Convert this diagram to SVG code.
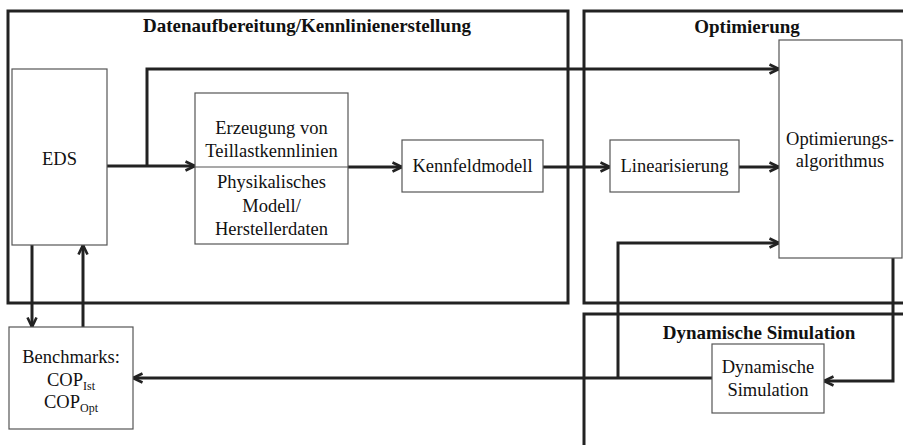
<svg xmlns="http://www.w3.org/2000/svg" width="903" height="445" viewBox="0 0 903 445">
<style>
.grp{fill:none;stroke:#222;stroke-width:3}
.node{fill:#fff;stroke:#555;stroke-width:1.2}
.t{font-family:"Liberation Serif","Times New Roman",serif;font-size:18.5px;fill:#111;text-anchor:middle}
.h{font-family:"Liberation Serif","Times New Roman",serif;font-size:19px;font-weight:bold;fill:#111;text-anchor:middle}
.c{fill:none;stroke:#222;stroke-width:3;marker-end:url(#a)}
</style>
<defs>
<marker id="a" viewBox="0 0 12 12" refX="11" refY="6" markerWidth="12" markerHeight="12" markerUnits="userSpaceOnUse" orient="auto">
<path d="M1.5,1.5 L11,6 L1.5,10.5" fill="none" stroke="#222" stroke-width="2.6"/>
</marker>
</defs>
<rect width="903" height="445" fill="#fff"/>
<g id="group-daten">
<rect class="grp" x="8" y="11" width="560" height="292"/>
<text class="h" x="307" y="32">Datenaufbereitung/Kennlinienerstellung</text>
</g>
<g id="group-optimierung">
<path class="grp" d="M906,11 H584 V303 H906"/>
<text class="h" x="747" y="33">Optimierung</text>
</g>
<g id="group-dynsim">
<path class="grp" d="M584,447 V314 H906"/>
<text class="h" x="759" y="339">Dynamische Simulation</text>
</g>
<g id="connectors">
<path class="c" d="M107,166 H195"/>
<path class="c" d="M147,166 V69 H779"/>
<path class="c" d="M348,167 H402"/>
<path class="c" d="M543,167 H610"/>
<path class="c" d="M739,167 H779"/>
<path class="c" d="M712,378 H133"/>
<path class="c" d="M618,378 V243 H779"/>
<path class="c" d="M893,258 V381 H824"/>
<path class="c" d="M32,245 V327"/>
<path class="c" d="M83,327 V245"/>
</g>
<g id="node-eds">
<rect class="node" x="12" y="69" width="95" height="176"/>
<text class="t" x="59.5" y="165">EDS</text>
</g>
<g id="node-erzeugung">
<rect class="node" x="195" y="93" width="153" height="151"/>
<line x1="195" y1="167" x2="348" y2="167" stroke="#555" stroke-width="1.2"/>
<text class="t" x="271.5" y="134">Erzeugung von</text>
<text class="t" x="271.5" y="157">Teillastkennlinien</text>
<text class="t" x="271.5" y="188">Physikalisches</text>
<text class="t" x="271.5" y="212">Modell/</text>
<text class="t" x="271.5" y="235">Herstellerdaten</text>
</g>
<g id="node-kennfeld">
<rect class="node" x="402" y="140" width="141" height="52"/>
<text class="t" x="472.5" y="172">Kennfeldmodell</text>
</g>
<g id="node-linear">
<rect class="node" x="610" y="140" width="129" height="52"/>
<text class="t" x="674.5" y="172">Linearisierung</text>
</g>
<g id="node-optalg">
<rect class="node" x="779" y="40" width="123" height="218"/>
<text class="t" x="840" y="145">Optimierungs-</text>
<text class="t" x="840" y="167">algorithmus</text>
</g>
<g id="node-bench">
<rect class="node" x="9" y="327" width="124" height="102"/>
<text class="t" x="71" y="363">Benchmarks:</text>
<text class="t" x="71" y="386">COP<tspan font-size="12" dy="4">Ist</tspan></text>
<text class="t" x="71" y="408">COP<tspan font-size="12" dy="4">Opt</tspan></text>
</g>
<g id="node-dynsim">
<rect class="node" x="712" y="344" width="112" height="69"/>
<text class="t" x="768" y="373">Dynamische</text>
<text class="t" x="768" y="396">Simulation</text>
</g>
</svg>
